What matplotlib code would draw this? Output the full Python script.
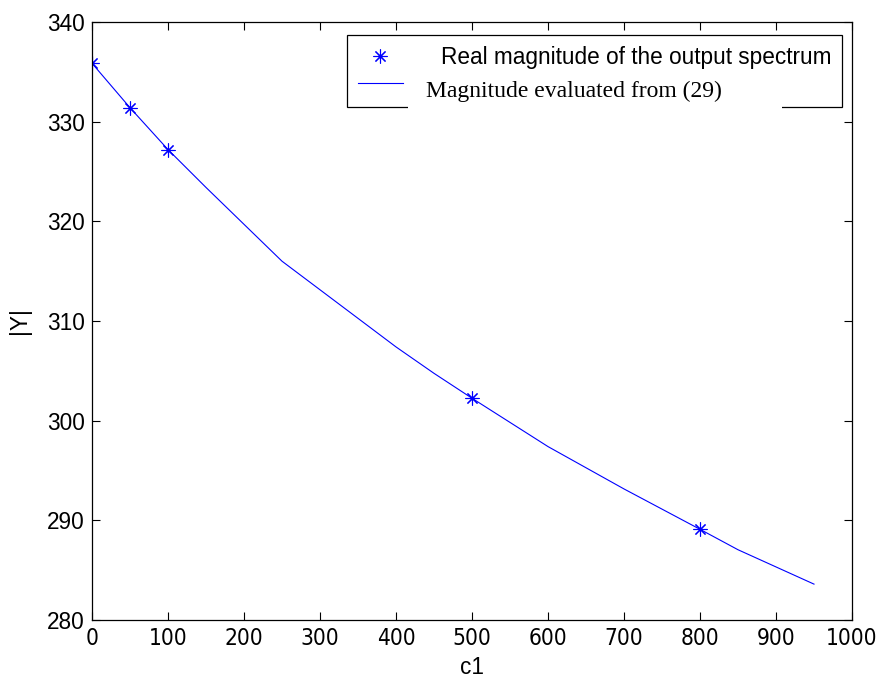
import numpy as np
import matplotlib
matplotlib.use('Agg')
from matplotlib import pyplot as plt
from matplotlib.patches import Rectangle

# measured points (stars) and evaluated curve
c1_real = [0, 50, 100, 500, 800]
y_real = [335.86, 331.4, 327.2, 302.25, 289.1]

c1_eval = [0, 50, 100, 150, 250, 400, 450, 500, 600, 700, 800, 850, 950]
y_eval = [335.86, 331.4, 327.2, 323.4, 316.0, 307.4, 304.75, 302.25,
          297.4, 293.15, 289.1, 287.05, 283.6]

xticks = list(range(0, 1001, 100))
yticks = list(range(280, 341, 10))

plt.rcParams['font.family'] = ['Liberation Sans', 'DejaVu Sans']

fig = plt.figure(figsize=(8.79, 6.8), dpi=100)
ax = fig.add_axes([92/879, 60/680, 760/879, 598/680])

star = (8, 2, 0)
h1, = ax.plot(c1_real, y_real, linestyle='none', marker=star, markersize=10,
              markeredgewidth=0.8, color='blue')
h2, = ax.plot(c1_eval, y_eval, '-', color='blue', lw=0.8)

ax.set_xlim(0, 1000)
ax.set_ylim(280, 340)
ax.set_yticks(yticks)
ax.tick_params(direction='in', length=6, width=0.8, top=True, right=True,
               labelsize=16.3, pad=5)
# x tick labels look condensed in the original
ax.set_xticks(xticks)
ax.set_xticklabels([str(v) for v in xticks],
                   fontfamily=['Liberation Sans Narrow', 'DejaVu Sans'],
                   fontstretch='condensed', fontsize=16.3)
for s in ax.spines.values():
    s.set_linewidth(0.9)

ax.set_xlabel('c1', fontsize=16.3, labelpad=4)
ax.set_ylabel('|Y|', fontsize=16.3, labelpad=12)

leg = ax.legend([h1, h2], ['Real magnitude of the output spectrum', ' '],
                loc='upper left', bbox_to_anchor=(0.3355, 0.5, 0.6513, 0.478),
                mode='expand', borderaxespad=0, fontsize=16.3, numpoints=1,
                handlelength=2.0, handletextpad=1.7, borderpad=0.47,
                labelspacing=0.19, fancybox=False, framealpha=1)
leg.get_frame().set_edgecolor('black')
leg.get_frame().set_linewidth(0.9)

# pasted label with its white background
ax.add_patch(Rectangle((0.4158, 0.850), 0.4921, 0.023, transform=ax.transAxes,
                       facecolor='white', edgecolor='none', zorder=6))
ax.text(0.4395, 0.8746, 'Magnitude evaluated from (29)', transform=ax.transAxes,
        family=['Liberation Serif', 'DejaVu Serif'], fontsize=17,
        va='baseline', ha='left', zorder=7)

plt.savefig('out.png', dpi=100)
